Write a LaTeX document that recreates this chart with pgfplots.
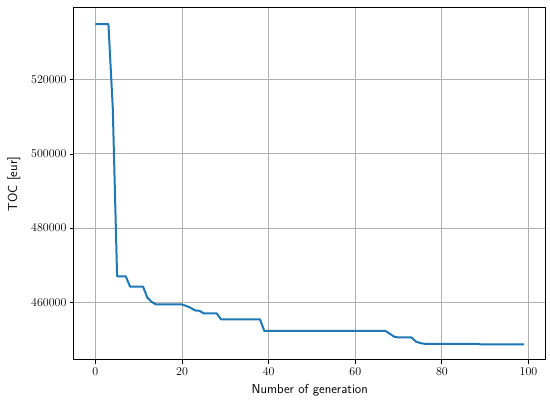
\documentclass[border=0pt]{standalone}
\usepackage{pgfplots}
\pgfplotsset{compat=1.18}
\definecolor{mplblue}{HTML}{1F77B4}
\definecolor{mplgrid}{HTML}{B0B0B0}
\begin{document}
\begin{tikzpicture}
\path[use as bounding box] (-74pt,-41pt) rectangle (476pt,360pt);
\begin{axis}[
    scale only axis,
    width=471.6pt, height=352pt,
    xmin=-4.95, xmax=103.95,
    ymin=444430, ymax=539350,
    xtick={0,20,40,60,80,100},
    ytick={460000,480000,500000,520000},
    scaled ticks=false,
    /pgf/number format/.cd, fixed, 1000 sep={}, /pgfplots/.cd,
    tick align=outside,
    xtick pos=left, ytick pos=left,
    major tick length=4pt,
    tick style={black, line width=0.8pt},
    axis line style={line width=1pt},
    grid=major,
    grid style={mplgrid, line width=0.9pt},
    ticklabel style={font=\fontsize{13}{15}\selectfont},
    xlabel={Number of generation},
    ylabel={TOC [eur]},
    label style={font=\fontsize{13}{15}\selectfont\sffamily},
    xlabel style={yshift=-2pt},
    ylabel style={yshift=4pt},
]
\addplot[mplblue, line width=2pt, line join=round] coordinates {
    (0,535000) (3,535000) (4,512500) (5,467000) (7,467000) (8,464200)
    (11,464200) (12,461200) (13,460100) (14,459400) (20,459400)
    (21,459000) (22,458500) (23,457800) (24,457700) (25,457000)
    (28,457000) (29,455400) (38,455400) (39,452250) (67,452250)
    (68,451500) (69,450700) (70,450500) (73,450500) (74,449400)
    (75,449000) (76,448800) (88,448800) (89,448650) (99,448650)
};
\end{axis}
\end{tikzpicture}
\end{document}
